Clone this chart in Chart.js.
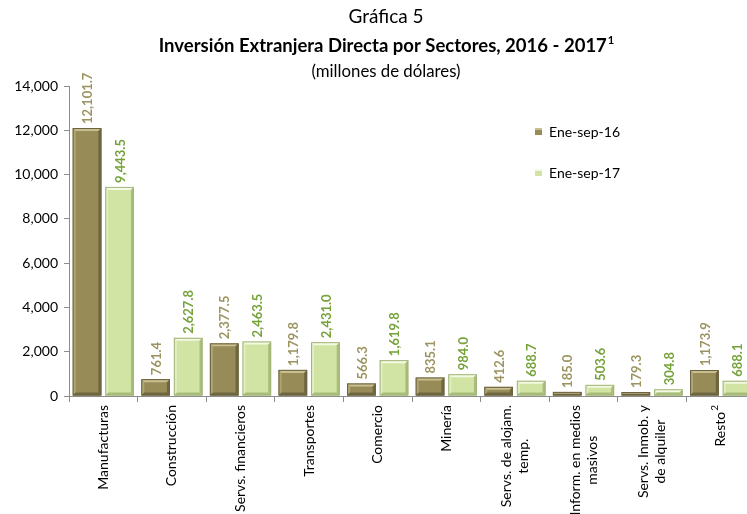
<!DOCTYPE html>
<html>
<head>
<meta charset="utf-8">
<script src="https://cdn.jsdelivr.net/npm/chart.js@4.4.1/dist/chart.umd.min.js"></script>
<style>
html, body { margin: 0; padding: 0; overflow: hidden; background: #fff; }
</style>
</head>
<body>
<canvas id="grafica" width="770" height="514"></canvas>
<script>
// datos
const sectores = [
    ['Manufacturas'],
    ['Construcción'],
    ['Servs. financieros'],
    ['Transportes'],
    ['Comercio'],
    ['Minería'],
    ['Servs. de alojam.', 'temp.'],
    ['Inform. en medios', 'masivos'],
    ['Servs. Inmob. y', 'de alquiler'],
    ['Resto']
]
const notasSector = ['', '', '', '', '', '', '', '', '', '2']
const eneSep16 = [12101.7, 761.4, 2377.5, 1179.8, 566.3, 835.1, 412.6, 185.0, 179.3, 1173.9]
const eneSep17 = [9443.5, 2627.8, 2463.5, 2431.0, 1619.8, 984.0, 688.7, 503.6, 304.8, 688.1]
const ticksY = [0, 2000, 4000, 6000, 8000, 10000, 12000, 14000]
const series = ['Ene-sep-16', 'Ene-sep-17']

const FUENTE = 'Lato, "Open Sans", sans-serif'
const colores = [
    { base: '#978c58', luz: '#c9bf8f', sombra: '#6f6740', borde: '#6a6240', texto: '#9c9460' },
    { base: '#d1e4a3', luz: '#f3f9e2', sombra: '#aabd7c', borde: '#a3b47a', texto: '#76a23a' }
]

const fmt1 = (v) => v.toLocaleString('en-US', { minimumFractionDigits: 1, maximumFractionDigits: 1 })

const titulos = {
    id: 'titulos',
    afterDraw(chart) {
        const ctx = chart.ctx
        const cx = 386
        ctx.save()
        ctx.fillStyle = '#000'
        ctx.textBaseline = 'middle'
        ctx.textAlign = 'center'
        ctx.font = '19px ' + FUENTE
        ctx.fillText('Gráfica 5', cx, 17)

        const t = 'Inversión Extranjera Directa por Sectores, 2016 - 2017'
        ctx.font = 'bold 18.5px ' + FUENTE
        const w1 = ctx.measureText(t).width
        ctx.font = 'bold 11px ' + FUENTE
        const w2 = ctx.measureText('1').width
        let x0 = cx - (w1 + w2) / 2
        ctx.textAlign = 'left'
        ctx.font = 'bold 18.5px ' + FUENTE
        ctx.fillText(t, x0, 46)
        ctx.font = 'bold 11px ' + FUENTE
        ctx.fillText('1', x0 + w1 + 1, 40)

        ctx.textAlign = 'center'
        ctx.font = '16.8px ' + FUENTE
        ctx.fillText('(millones de dólares)', cx, 72)
        ctx.restore()
    }
}

const barras3d = {
    id: 'barras3d',
    afterDatasetsDraw(chart) {
        const ctx = chart.ctx
        chart.data.datasets.forEach((ds, d) => {
            const c = colores[d]
            chart.getDatasetMeta(d).data.forEach((bar) => {
                const l = bar.x - bar.width / 2, r = bar.x + bar.width / 2
                const t = bar.y, b = bar.base
                const e = Math.min(3, (b - t) / 2)
                ctx.save()
                ctx.fillStyle = c.luz
                ctx.beginPath()
                ctx.moveTo(l, t); ctx.lineTo(r, t); ctx.lineTo(r - e, t + e); ctx.lineTo(l + e, t + e)
                ctx.closePath(); ctx.fill()
                ctx.globalAlpha = 0.5
                ctx.beginPath()
                ctx.moveTo(l, t); ctx.lineTo(l + e, t + e); ctx.lineTo(l + e, b - e); ctx.lineTo(l, b)
                ctx.closePath(); ctx.fill()
                ctx.globalAlpha = 1
                ctx.fillStyle = c.sombra
                ctx.beginPath()
                ctx.moveTo(r, t); ctx.lineTo(r - e, t + e); ctx.lineTo(r - e, b - e); ctx.lineTo(r, b)
                ctx.closePath(); ctx.fill()
                ctx.beginPath()
                ctx.moveTo(l, b); ctx.lineTo(l + e, b - e); ctx.lineTo(r - e, b - e); ctx.lineTo(r, b)
                ctx.closePath(); ctx.fill()
                ctx.strokeStyle = c.borde
                ctx.lineWidth = 1
                ctx.strokeRect(l + 0.5, t + 0.5, bar.width - 1, b - t - 1)
                ctx.restore()
            })
        })
    }
}

const etiquetas = {
    id: 'etiquetas',
    afterDatasetsDraw(chart) {
        const ctx = chart.ctx
        chart.data.datasets.forEach((ds, d) => {
            chart.getDatasetMeta(d).data.forEach((bar, i) => {
                ctx.save()
                ctx.translate(bar.x, bar.y - 4)
                ctx.rotate(-Math.PI / 2)
                ctx.font = 'bold 13px ' + FUENTE
                ctx.fillStyle = colores[d].texto
                ctx.textAlign = 'left'
                ctx.textBaseline = 'middle'
                ctx.fillText(fmt1(ds.data[i]), 0, 1)
                ctx.restore()
            })
        })
    }
}

const etiquetasX = {
    id: 'etiquetasX',
    afterDraw(chart) {
        const ctx = chart.ctx
        const xs = chart.scales.x
        const arriba = chart.chartArea.bottom + 9
        const altoLinea = 17
        ctx.save()
        ctx.fillStyle = '#000'
        sectores.forEach((lineas, i) => {
            const x = xs.getPixelForValue(i)
            ctx.font = '14px ' + FUENTE
            const anchos = lineas.map((s) => ctx.measureText(s).width)
            let nota = notasSector[i]
            let anchoNota = 0
            if (nota) {
                ctx.font = '10px ' + FUENTE
                anchoNota = ctx.measureText(nota).width + 1
            }
            const maxW = Math.max(...anchos) + anchoNota
            lineas.forEach((s, j) => {
                const lx = x + (j - (lineas.length - 1) / 2) * altoLinea
                ctx.save()
                ctx.translate(lx, arriba + maxW / 2)
                ctx.rotate(-Math.PI / 2)
                ctx.textBaseline = 'middle'
                ctx.textAlign = 'left'
                ctx.font = '14px ' + FUENTE
                const w = anchos[j] + (nota ? anchoNota : 0)
                ctx.fillText(s, -w / 2, 0)
                if (nota) {
                    ctx.font = '10px ' + FUENTE
                    ctx.fillText(nota, -w / 2 + anchos[j] + 1, -6)
                }
                ctx.restore()
            })
        })
        ctx.restore()
    }
}

const leyenda = {
    id: 'leyenda',
    afterDraw(chart) {
        const ctx = chart.ctx
        const ys = [131, 172]
        ctx.save()
        series.forEach((s, d) => {
            const c = colores[d]
            ctx.fillStyle = c.base
            ctx.fillRect(535, ys[d] - 3, 7, 7)
            ctx.fillStyle = c.luz
            ctx.fillRect(535, ys[d] - 3, 7, 2)
            ctx.fillStyle = '#000'
            ctx.font = '14px ' + FUENTE
            ctx.textBaseline = 'middle'
            ctx.textAlign = 'left'
            ctx.fillText(s, 549, ys[d] + 1)
        })
        ctx.restore()
    }
}

new Chart(document.getElementById('grafica'), {
    type: 'bar',
    data: {
        labels: sectores.map((l) => l.join(' ')),
        datasets: [
            { label: series[0], data: eneSep16, backgroundColor: colores[0].base, borderWidth: 0 },
            { label: series[1], data: eneSep17, backgroundColor: colores[1].base, borderWidth: 0 }
        ]
    },
    options: {
        responsive: false,
        animation: false,
        categoryPercentage: 0.95,
        barPercentage: 0.88,
        layout: { padding: { top: 86, right: 15, left: 0, bottom: 0 } },
        plugins: {
            legend: { display: false },
            title: { display: false },
            tooltip: { enabled: false }
        },
        scales: {
            x: {
                grid: { display: true, drawOnChartArea: false, offset: true, tickLength: 6, color: '#8c8c8c' },
                border: { color: '#8c8c8c' },
                ticks: { display: false },
                afterFit(s) { s.height = 118 }
            },
            y: {
                min: 0,
                max: 14000,
                afterBuildTicks(s) { s.ticks = ticksY.map((v) => ({ value: v })) },
                grid: { drawOnChartArea: false, tickLength: 5, color: '#8c8c8c' },
                border: { color: '#8c8c8c' },
                ticks: {
                    color: '#000',
                    font: { family: FUENTE, size: 14 },
                    padding: 6,
                    callback: (v) => v.toLocaleString('en-US')
                },
                afterFit(s) { s.width = 69 }
            }
        }
    },
    plugins: [titulos, barras3d, etiquetas, etiquetasX, leyenda]
})
</script>
</body>
</html>
